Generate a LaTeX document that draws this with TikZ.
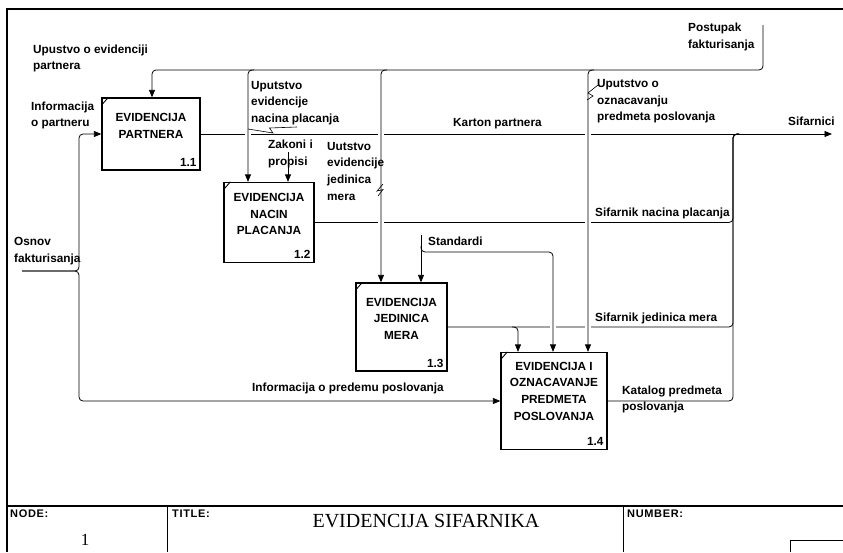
\documentclass[tikz,border=0pt]{standalone}
\usepackage{fontspec}
\setmainfont{Liberation Serif}
\newfontfamily\arialf{Liberation Sans}
\newfontfamily\arialsp[LetterSpace=6]{Liberation Sans}
\usetikzlibrary{arrows.meta}

\tikzset{
  flowline/.style={line width=0.8pt, draw=black},
  flowarrow/.style={flowline, -{Triangle[length=7.5pt,width=6pt]}},
  rc/.style={rounded corners=4pt},
  procbox/.style={draw, line width=1.3pt, inner sep=0pt},
  boxtext/.style={font=\arialf\bfseries\fontsize{11.8}{16.6}\selectfont, align=center,
    inner sep=0pt, anchor=north, yshift=11.62pt},
  boxnum/.style={font=\arialf\bfseries\fontsize{11.8}{16.6}\selectfont, inner sep=0pt, anchor=base east},
  lbl/.style={font=\arialf\bfseries\fontsize{11.8}{16.6}\selectfont, align=left,
    inner sep=0pt, anchor=north west, yshift=11.62pt},
  tbl/.style={font=\arialsp\bfseries\fontsize{11}{13}\selectfont, inner sep=0pt, anchor=base west},
  squig/.style={line width=0.6pt},
  cornermark/.style={line width=0.9pt},
  gapfill/.style={fill=white, draw=none},
}

\newcommand{\crossgap}[2]{\path[gapfill] (#1-2.8,#2-1.6) rectangle (#1+2.8,#2+1.6);}

\begin{document}
\begin{tikzpicture}[x=1pt,y=-1pt]
\useasboundingbox (0,0) rectangle (843,552);

% page frame and title block
\draw[line width=1.2pt] (843,9) -- (7,9) -- (7,552);
\draw[line width=1.2pt] (7,506) -- (843,506);
\draw[line width=1pt] (167,506) -- (167,552);
\draw[line width=1pt] (623,506) -- (623,552);
\draw[line width=1pt] (790,552) -- (790,540) -- (843,540);
\node[tbl] (hnode) at (10,517) {NODE:};
\node[tbl] (htitle) at (172,517) {TITLE:};
\node[tbl] (hnumber) at (627,517) {NUMBER:};
\node[font=\fontsize{20}{23}\selectfont, anchor=base, inner sep=0pt] (title) at (426,527) {EVIDENCIJA SIFARNIKA};
\node[font=\fontsize{17}{20}\selectfont, anchor=base, inner sep=0pt] (nodenum) at (85,545) {1};

% activity boxes
\node[procbox, minimum width=98pt, minimum height=72pt] (b11) at (151,134) {};
\node[procbox, minimum width=90pt, minimum height=80pt] (b12) at (269,222.5) {};
\node[procbox, minimum width=91pt, minimum height=88pt] (b13) at (401.5,327) {};
\node[procbox, minimum width=106pt, minimum height=97pt] (b14) at (554,401) {};
\foreach \b in {b11,b12,b13,b14}
  \draw[cornermark] (\b.north west) ++(0,8) -- ++(7,-8);

\node[boxtext] (t11) at (151,121.5) {\strut EVIDENCIJA\\PARTNERA};
\node[boxtext] (t12) at (269,201.3) {\strut EVIDENCIJA\\NACIN\\PLACANJA};
\node[boxtext] (t13) at (401.5,306) {\strut EVIDENCIJA\\JEDINICA\\MERA};
\node[boxtext] (t14) at (554,370) {\strut EVIDENCIJA I\\OZNACAVANJE\\PREDMETA\\POSLOVANJA};
\node[boxnum] (n11) at ([shift={(-4,-4.5)}]b11.south east) {1.1};
\node[boxnum] (n12) at ([shift={(-4,-4.5)}]b12.south east) {1.2};
\node[boxnum] (n13) at ([shift={(-4,-4.5)}]b13.south east) {1.3};
\node[boxnum] (n14) at ([shift={(-4,-4.5)}]b14.south east) {1.4};

% free ends and junctions
\coordinate (pf) at (763,25);
\coordinate (j763) at (763,70);
\coordinate (j152) at (152,70);
\coordinate (j248) at (248,70);
\coordinate (j381) at (381,70);
\coordinate (j588) at (588,70);
\coordinate (zk) at (288,152);
\coordinate (st) at (421,235);
\coordinate (stj) at (421,246);
\coordinate (stc) at (553,252);
\coordinate (of) at (22,271);
\coordinate (oj) at (79,271);
\coordinate (sf) at (832,134);
\coordinate (bt) at (733,134);
\coordinate (jm) at (518,327);

% outputs
\draw[flowarrow] (b11.east) -- (sf);
\draw[flowline, rc] (b12.east) -| (bt) -- ++(6,0);
\draw[flowline, rc] (b13.east) -| (bt) -- ++(6,0);
\draw[flowline, rc] (b14.east) -| (bt) -- ++(6,0);
\draw[flowarrow, rc] (jm) ++(-6,0) -- (jm) -- (jm |- b14.north);

% inputs
\draw[flowarrow, rc] (of) -- (oj) |- (b11.west);
\draw[flowarrow, rc] (of) -- (oj) |- (b14.west);

% breaks where controls cross the outputs
\crossgap{248}{134}
\crossgap{381}{134}
\crossgap{588}{134}
\crossgap{381}{222.5}
\crossgap{588}{222.5}
\crossgap{553}{327}
\crossgap{588}{327}

% controls
\draw[flowarrow, rc] (pf) -- (j763) -- (j152) -- (j152 |- b11.north);
\draw[flowarrow, rc] (j248) ++(6,0) -- (j248) -- (j248 |- b12.north);
\draw[flowarrow, rc] (j381) ++(6,0) -- (j381) -- (j381 |- b13.north);
\draw[flowarrow, rc] (j588) ++(6,0) -- (j588) -- (j588 |- b14.north);
\draw[flowarrow] (zk) -- (zk |- b12.north);
\draw[flowarrow] (st) -- (st |- b13.north);
\draw[flowarrow, rc] (stj) |- (stc) -- (stc |- b14.north);

% label tildes
\draw[squig] (248,129) -- (273,133) -- (269.5,128) -- (297,127);
\draw[squig] (383,184) -- (377,191) -- (383,189.5) -- (378,196);
\draw[squig] (598,85) -- (588,93) -- (593,96) -- (587,100);

% arrow labels
\node[lbl] (l1) at (33,53) {\strut Upustvo o evidenciji\\partnera};
\node[lbl] (l2) at (31,110) {\strut Informacija\\o partneru};
\node[lbl] (l3) at (251,89) {\strut Uputstvo\\evidencije\\nacina placanja};
\node[lbl] (l4) at (268,148.5) {\strut Zakoni i\\propisi};
\node[lbl] (l5) at (327,150) {\strut Uutstvo\\evidencije\\jedinica\\mera};
\node[lbl] (l6) at (688,31.5) {\strut Postupak\\fakturisanja};
\node[lbl] (l7) at (597,87.5) {\strut Uputstvo o\\oznacavanju\\predmeta poslovanja};
\node[lbl] (l8) at (453,126.5) {\strut Karton partnera};
\node[lbl] (l9) at (788,125.5) {\strut Sifarnici};
\node[lbl] (l10) at (14,245.5) {\strut Osnov\\fakturisanja};
\node[lbl] (l11) at (428,245) {\strut Standardi};
\node[lbl] (l12) at (595,216) {\strut Sifarnik nacina placanja};
\node[lbl] (l13) at (595,321) {\strut Sifarnik jedinica mera};
\node[lbl] (l14) at (622,394) {\strut Katalog predmeta\\poslovanja};
\node[lbl] (l15) at (252,391) {\strut Informacija o predemu poslovanja};
\end{tikzpicture}
\end{document}
